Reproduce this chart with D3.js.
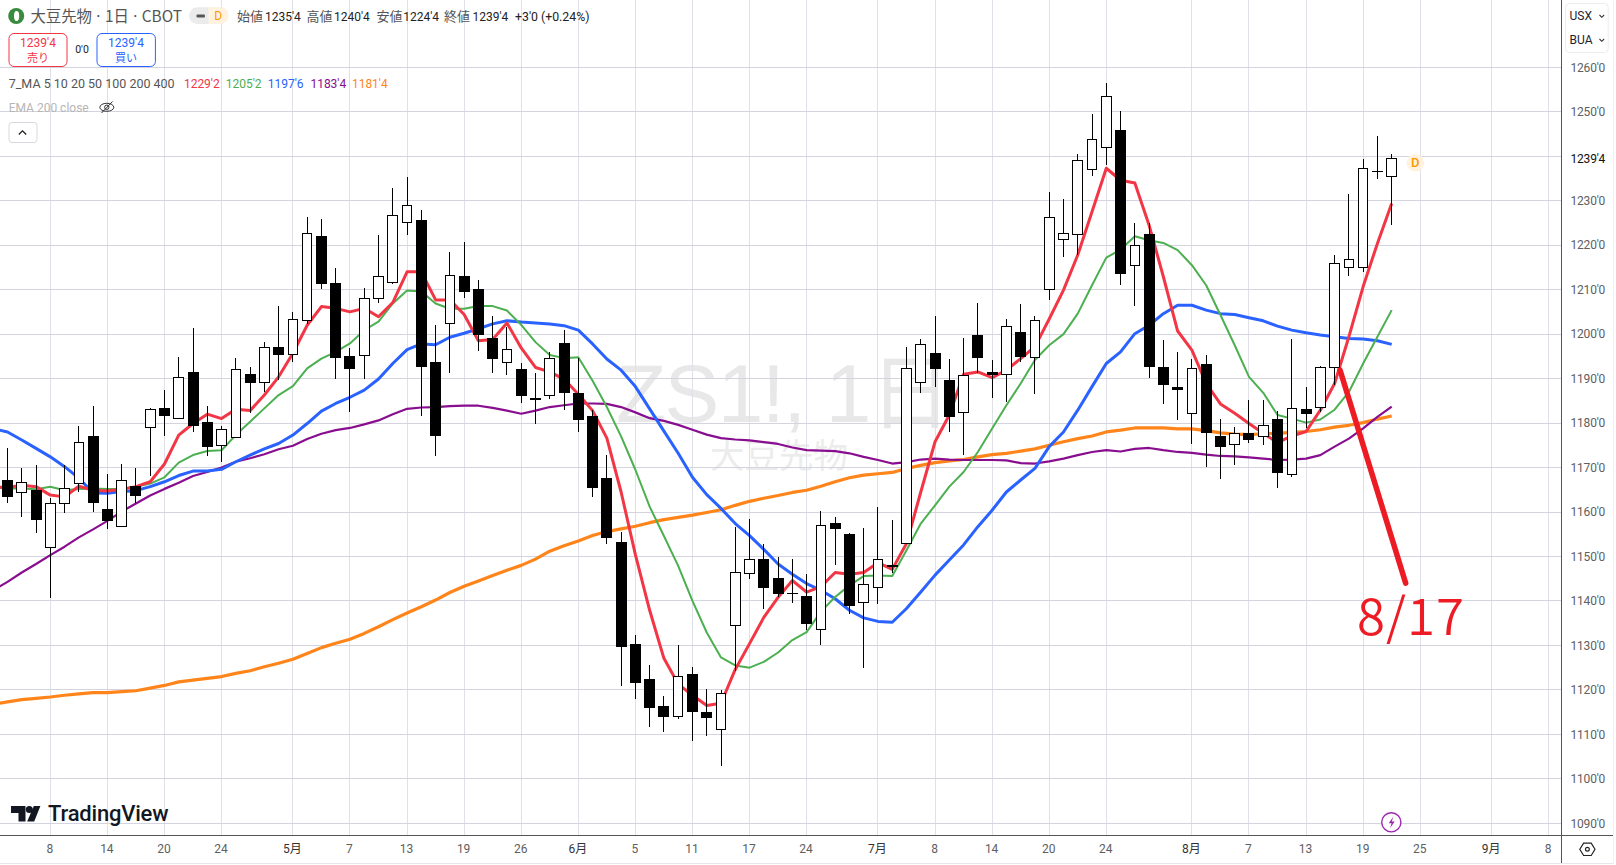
<!DOCTYPE html>
<html><head><meta charset="utf-8">
<script src="https://cdn.jsdelivr.net/npm/d3@7"></script>
<style>
html,body{margin:0;padding:0;background:#fff;overflow:hidden}
svg{display:block}
text{font-family:"Roboto","Liberation Sans","Noto Sans CJK JP",sans-serif}
.cjk{font-family:"Noto Sans CJK JP","Roboto",sans-serif}
</style></head><body>
<svg id="c" width="1616" height="865"></svg>
<script>
const opens=[1167.3,1164.4,1164.9,1152.0,1161.9,1166.4,1177.0,1160.6,1156.8,1165.8,
1179.0,1183.3,1181.1,1191.4,1180.2,1175.0,1176.8,1191.0,1189.2,1197.0,
1195.4,1203.1,1222.0,1211.4,1195.0,1195.2,1208.0,1211.6,1225.0,1225.6,
1193.8,1202.3,1213.1,1210.1,1199.1,1193.7,1192.1,1185.7,1186.1,1197.9,
1186.8,1181.6,1167.7,1153.2,1130.4,1122.5,1116.4,1114.0,1123.6,1115.1,
1111.2,1134.4,1146.1,1149.4,1145.2,1141.8,1141.1,1133.6,1157.5,1155.0,
1139.6,1143.0,1148.1,1152.9,1189.1,1195.7,1189.6,1182.4,1199.9,1191.4,
1190.9,1200.4,1194.8,1210.0,1221.3,1222.4,1237.0,1242.0,1246.0,1215.4,
1222.5,1192.5,1188.1,1182.2,1193.2,1177.0,1175.2,1177.7,1177.0,1181.0,
1168.5,1183.1,1183.5,1192.5,1215.0,1215.0,1236.5,1235.5];
const closes=[1163.4,1166.6,1158.3,1161.9,1165.2,1175.6,1162.1,1158.0,1167.0,1163.7,
1183.1,1181.7,1190.3,1179.4,1174.7,1178.6,1192.1,1189.1,1197.0,1195.4,
1203.3,1222.7,1211.3,1194.7,1192.2,1208.0,1213.0,1226.6,1229.0,1192.5,
1177.0,1213.1,1209.4,1199.7,1194.3,1196.6,1186.0,1185.2,1194.6,1186.7,
1180.8,1165.4,1154.1,1129.6,1121.6,1115.9,1114.0,1123.1,1115.0,1113.7,
1119.3,1146.5,1149.4,1142.8,1141.5,1141.6,1134.9,1157.0,1156.2,1138.9,
1143.7,1149.3,1147.7,1192.3,1197.7,1192.2,1181.4,1190.7,1194.7,1190.9,
1201.7,1194.9,1203.0,1226.2,1222.6,1239.1,1243.8,1253.4,1213.6,1219.9,
1192.6,1188.6,1187.5,1192.3,1177.7,1174.7,1177.6,1176.3,1179.4,1168.7,
1183.2,1182.1,1192.5,1215.8,1216.7,1237.2,1236.7,1239.5];
const highs=[1174.3,1169.8,1170.5,1163.1,1170.5,1179.3,1183.8,1168.5,1170.9,1170.0,
1183.5,1187.4,1194.8,1201.3,1183.8,1179.3,1194.6,1192.7,1198.2,1206.3,
1204.9,1226.3,1226.0,1214.8,1196.8,1210.3,1222.4,1232.8,1235.3,1228.0,
1202.1,1218.5,1220.7,1212.2,1204.0,1201.7,1193.5,1191.3,1196.0,1200.9,
1194.6,1183.0,1172.8,1155.4,1132.4,1125.5,1118.7,1130.0,1125.2,1120.1,
1120.0,1156.6,1158.5,1152.9,1149.9,1149.5,1146.0,1160.3,1158.9,1155.2,
1156.5,1161.2,1158.2,1197.1,1198.8,1204.0,1194.3,1199.1,1207.1,1194.2,
1203.4,1206.7,1204.0,1231.9,1230.3,1240.6,1249.4,1256.4,1250.1,1224.9,
1224.9,1198.6,1195.9,1194.5,1195.2,1181.0,1179.1,1185.2,1185.2,1182.8,
1198.9,1188.0,1192.9,1217.9,1231.6,1239.3,1244.5,1240.5];
const lows=[1162.1,1158.9,1155.3,1140.7,1159.8,1164.6,1160.1,1156.2,1156.8,1162.1,
1168.1,1177.2,1181.0,1178.1,1172.7,1171.3,1176.7,1182.3,1187.0,1189.7,
1193.8,1202.3,1210.2,1190.0,1182.6,1189.8,1207.1,1211.3,1222.2,1181.7,
1172.6,1191.2,1208.2,1196.1,1191.2,1190.7,1184.6,1179.9,1185.3,1183.0,
1177.9,1163.3,1152.7,1120.8,1117.9,1111.7,1110.5,1113.4,1108.5,1109.7,
1102.9,1124.2,1144.9,1138.3,1140.8,1139.6,1133.4,1130.2,1148.0,1137.1,
1125.0,1139.3,1146.3,1152.8,1186.8,1188.2,1178.0,1172.8,1191.3,1185.7,
1184.8,1193.8,1186.6,1207.7,1217.4,1217.8,1235.5,1238.0,1211.0,1206.4,
1190.2,1184.3,1180.7,1175.3,1170.2,1167.5,1170.6,1175.6,1175.1,1165.5,
1167.8,1179.0,1182.6,1188.5,1213.1,1214.0,1234.8,1224.5];
// moving averages start one bar before the first candle (off the left edge)
const ma5=[1165.6,1165.5,1166,1165.7,1163.8,1163.4,1165.8,1164.9,1164.7,1165.1,1165.7,
1166.8,1170.8,1177.3,1179.9,1182.0,1181.0,1183.1,1182.8,1186.3,1190.4,
1195.7,1202.0,1206.2,1205.8,1205,1205.8,1203.9,1207.1,
1214.0,1214.0,1207.7,1207.7,1204.4,1198.5,1198.8,1202.5,1196.9,1192.5,1191.5,1189.9,1186.5,1182.8,1176.6,1164.5,1150.4,1137.9,1127.1,1121.3,1118.8,1116.5,1117.0,1124.6,1130.4,1136.3,1140.8,1144.6,
1142.0,1143.2,1146.4,1146.0,1146.4,1148.6,1147.1,1152.9,1164.5,1175.8,1181.8,1191.0,1191.5,1190.2,1191.9,1194.5,1197.2,
1203.4,1209.9,1217.8,1227.5,1237.3,1234.6,1234.0,1224.5,1212.9,1200.7,1196.4,1188.9,1184.3,1182.2,1179.9,1177.7,1175.6,1177.1,1178.1,1182.9,1188.9,1199.4,1210.7,1220.4,1229.4];
const ma10=[1165.6,1165.3,1165.3,1165.1,1165.7,1164.9,1165.2,1165.3,1165.2,1165.2,1165.7,1166.4,1167.8,1171.1,1172.8,1173.7,1173.9,
1177.3,1180.3,1183.3,1186.3,1188.3,1192.3,1194.5,1196.0,1197.9,1200.9,1202.8,1206.9,
1209.8,1209.6,1206.9,1205.7,1205.7,1206.3,1206.3,1205.3,1202.1,1198.2,1195.3,1194.6,1194.8,1189.5,1183.6,1177.0,1169.5,1161.2,1154.6,1147.9,1140.0,1132.9,1127.3,1125.5,1125.0,1126.3,1128.4,1131.2,
1133.0,1137.6,1140.9,1143.5,1145.6,1145.7,1145.6,1151.4,1157.4,1161.5,1165.7,1169.0,1173.5,1178.8,1184.0,1188.9,1194.2,
1197.5,1200.0,1204.6,1211.0,1217.2,1219.0,1222.0,1221.1,1220.5,1218.9,1215.5,1211.0,1204.3,1197.5,1190.4,1186.8,1181.8,1181.0,1180.1,1180.8,1183.0,1187.0,1193.4,1199.4,1205.4];
const ma20=[1178.7,1178.0,1176.2,1174.3,1172.4,1170.2,1167.6,1164.3,1164.2,1164.6,1164.8,1165.7,1166.8,1168.2,1169.2,1169.2,1169.6,1171.3,1172.8,1174.2,1175.4,1177.3,1179.9,1182.7,1184.4,1185.8,1187.4,1189.9,1193.4,
1196.5,1197.8,1197.6,1199.3,1200.2,1201.2,1202.3,1203.0,1202.7,1202.5,1202.3,1201.9,1200.9,1197.8,1194.4,1191.9,1188.2,1183.2,1178.2,1173.2,1167.8,1163.9,1160.8,1157.4,1154.7,1151.6,1148.3,1146.0,
1143.9,1142.4,1140.5,1137.9,1136.2,1135.4,1135.2,1138.3,1142.0,1145.8,1149.2,1152.6,1156.7,1160.4,1164.5,1167.2,1169.8,
1174.7,1178.0,1182.9,1188.2,1193.4,1196.0,1200.1,1202.0,1204.6,1206.5,1206.5,1205.4,1204.6,1204.4,1203.7,1203.0,1201.8,1200.9,1200.3,1199.8,1199.4,1199.0,1198.9,1198.5,1197.7];
const ma50=[1142.4,1144.3,1146.4,1148.3,1150.3,1152.2,1154.3,1156.1,1158.0,1160.1,1161.9,1163.7,1165.2,1166.6,1168.1,1169.0,1170.0,1171.3,1172.1,1173.0,1174.1,1174.9,1176.4,1177.6,1178.4,1178.9,1179.7,1180.6,1182.0,
1183.2,1183.5,1183.6,1183.8,1183.9,1183.9,1183.4,1182.8,1182.1,1182.8,1183.6,1184.0,1184.4,1184.4,1184.3,1183.6,1182.4,1181.1,1180.5,1179.6,1178.5,1177.4,1176.6,1176.3,1176.1,1175.7,1175.3,1174.5,
1173.9,1173.8,1173.7,1173.2,1172.4,1171.7,1170.9,1171.2,1171.8,1172.0,1171.8,1171.7,1171.7,1171.7,1171.6,1171.0,1170.9,1171.4,1172.0,1172.8,
1173.5,1173.9,1173.6,1174.2,1174.4,1173.9,1173.5,1173.3,1172.9,1172.6,1172.5,1172.3,1172.0,1171.7,1171.8,1172.0,1172.8,1174.7,1176.5,1178.8,1181.4,1183.7];
const ma100=[1116.8,1117.3,1117.8,1118.1,1118.4,1118.8,1119.1,1119.4,1119.4,1119.6,1119.8,1120.4,1121.0,1121.8,1122.2,1122.6,1123.0,1123.7,1124.3,1125.2,1126.0,1126.9,1128.2,1129.5,1130.5,1131.4,1132.7,1134.2,1135.8,1137.3,
1138.7,1140.2,1141.9,1143.3,1144.5,1145.7,1146.9,1148.0,1149.4,1151.2,1152.4,1153.5,1154.7,1155.6,1156.2,1156.8,1157.6,1158.3,1158.8,1159.3,1159.9,1160.5,1161.5,1162.4,1163.1,1163.7,1164.4,
1164.9,1165.8,1166.8,1167.7,1168.3,1168.6,1168.9,1169.8,1170.5,1171.1,1171.5,1171.8,1172.4,1172.9,1173.2,1173.7,1174.2,
1175.0,1175.8,1176.5,1177.1,1178.0,1178.4,1178.9,1178.9,1178.9,1178.7,1178.7,1178.3,1177.8,1177.5,1177.4,1177.6,1177.7,1177.9,1178.1,1178.5,1179.1,1179.5,1180.1,1180.9,1181.6];
const xTickBars=[3,7,11,15,20,24,28,32,36,40,44,48,52,56,61,65,69,73,77,83,87,91,95,99,104,108];
const xTickLabels=["8","14","20","24","5月","7","13","19","26","6月","5","11","17","24","7月","8","14","20","24","8月","7","13","19","25","9月","8"];
const priceGrid=[1260,1250,1240,1230,1220,1210,1200,1190,1180,1170,1160,1150,1140,1130,1120,1110,1100,1090];
const priceLabels=[[1260,"1260'0"],[1250,"1250'0"],[1239.5,"1239'4"],[1230,"1230'0"],[1220,"1220'0"],[1210,"1210'0"],[1200,"1200'0"],[1190,"1190'0"],[1180,"1180'0"],[1170,"1170'0"],[1160,"1160'0"],[1150,"1150'0"],[1140,"1140'0"],[1130,"1130'0"],[1120,"1120'0"],[1110,"1110'0"],[1100,"1100'0"],[1090,"1090'0"]];
const noteBars=[93.38,97.98];
const notePrices=[1191.9,1144.0];

const plotR=1561.5, plotB=835.7;
const x=d3.scaleLinear().domain([0,108]).range([7.5,1548.66]);
const y=d3.scaleLinear().domain([1090,1260]).range([823.3,67.3]);
const svg=d3.select("#c");

// watermark
const wm=svg.append("g");
wm.append("text").attr("x",616).attr("y",421.5).attr("font-size",82).attr("fill","#e8e8e8").attr("letter-spacing","-1.5")
  .style("font-family",'"Liberation Sans","Noto Sans CJK JP",sans-serif').text("ZS1!, 1日");
wm.append("text").attr("class","cjk").attr("x",710).attr("y",468).attr("font-size",34.5).attr("fill","#ececec").text("大豆先物");

// grid
const grid=svg.append("g").attr("shape-rendering","crispEdges");
grid.selectAll(".v").data(xTickBars).join("line").attr("x1",d=>x(d)).attr("x2",d=>x(d)).attr("y1",0).attr("y2",plotB).attr("stroke","#dfe0e8");
grid.selectAll(".h").data(priceGrid).join("line").attr("x1",0).attr("x2",plotR).attr("y1",d=>y(d)).attr("y2",d=>y(d)).attr("stroke","#d3d4e0");

// moving averages
const line=d3.line().x((d,i)=>x(i-1)).y(d=>y(d));
[[ma100,"#ff851b",3.2],[ma50,"#880e8f",2.2],[ma20,"#2962ff",3],[ma10,"#4caf50",2],[ma5,"#f23645",3]].forEach(([s,c,w])=>{
  svg.append("path").attr("d",line(s)).attr("fill","none").attr("stroke",c).attr("stroke-width",w).attr("stroke-linejoin","round");
});

// candles
const bars=d3.range(opens.length);
const cg=svg.append("g").attr("shape-rendering","crispEdges");
cg.selectAll(".w").data(bars).join("line").attr("x1",i=>x(i)).attr("x2",i=>x(i)).attr("y1",i=>y(highs[i])).attr("y2",i=>y(lows[i])).attr("stroke","#000");
cg.selectAll(".b").data(bars).join("rect")
  .each(function(i){
    const top=y(Math.max(opens[i],closes[i])),bot=y(Math.min(opens[i],closes[i])),h=bot-top,r=d3.select(this);
    if(h<1.5){r.attr("x",x(i)-5.5).attr("width",11).attr("y",top-.4).attr("height",1.4).attr("fill","#000");}
    else if(closes[i]>=opens[i]){r.attr("x",x(i)-4.8).attr("width",9.6).attr("y",top).attr("height",h).attr("fill","#fff").attr("stroke","#000");}
    else{r.attr("x",x(i)-5.5).attr("width",11).attr("y",top).attr("height",h).attr("fill","#000");}
  });

// hand annotation
svg.append("line").attr("x1",x(noteBars[0])).attr("y1",y(notePrices[0])).attr("x2",x(noteBars[1])).attr("y2",y(notePrices[1]))
  .attr("stroke","#ed1c24").attr("stroke-width",5.5).attr("stroke-linecap","round");
svg.append("text").attr("x",1357).attr("y",634.5).attr("font-size",51).attr("fill","#ed1c24").attr("letter-spacing","1")
  .style("font-family",'"Noto Sans CJK JP",sans-serif').style("font-weight",350).text("8/17");

// D marker
svg.append("circle").attr("cx",1415.3).attr("cy",162.7).attr("r",8.8).attr("fill","#fff3e0");
svg.append("text").attr("x",1415.3).attr("y",167.3).attr("text-anchor","middle").attr("font-size",13).attr("font-weight",500).attr("fill","#ff9800").text("D");

// axes frame
const frame=svg.append("g").attr("shape-rendering","crispEdges");
frame.append("rect").attr("x",1562).attr("y",0).attr("width",54).attr("height",865).attr("fill","#fff");
frame.append("rect").attr("x",0).attr("y",836).attr("width",1616).attr("height",29).attr("fill","#fff");
frame.append("line").attr("x1",plotR).attr("x2",plotR).attr("y1",0).attr("y2",863).attr("stroke","#555");
frame.append("line").attr("x1",0).attr("x2",1613).attr("y1",plotB).attr("y2",plotB).attr("stroke","#555");
frame.append("line").attr("x1",0).attr("x2",1613).attr("y1",863.5).attr("y2",863.5).attr("stroke","#e6e7ec");
frame.append("line").attr("x1",1613.5).attr("x2",1613.5).attr("y1",0).attr("y2",864).attr("stroke","#f0f1f4");

// axis labels
svg.selectAll(".yl").data(priceLabels).join("text").attr("x",1570.5).attr("y",d=>y(d[0])+4.3)
  .attr("font-size",12).attr("letter-spacing","-0.2").attr("fill",d=>d[0]===1239.5?"#111":"#606060").text(d=>d[1]);
svg.selectAll(".xl").data(xTickBars).join("text").attr("x",d=>x(d)-.5).attr("y",852.5).attr("text-anchor","middle")
  .attr("font-size",12).attr("fill",(d,i)=>xTickLabels[i].includes("月")?"#333":"#606060").text((d,i)=>xTickLabels[i]);

// unit box
svg.append("rect").attr("x",1565.7).attr("y",3.5).attr("width",42.5).attr("height",49).attr("rx",4).attr("fill","#fff").attr("stroke","#ebecf0");
[["USX",20],["BUA",44]].forEach(([t,yy])=>{
  svg.append("text").attr("x",1569.5).attr("y",yy).attr("font-size",12).attr("fill","#1e222d").text(t);
  svg.append("path").attr("d",`M1599.5 ${yy-5}l2.3 2.3l2.3 -2.3`).attr("fill","none").attr("stroke","#333").attr("stroke-width",1.1);
});

// legend
const T=(s,xx,yy,size,fill,extra)=>{const t=svg.append("text").attr("x",xx).attr("y",yy).attr("font-size",size).attr("fill",fill).text(s);if(extra)extra(t);return t;};
const cjk=t=>t.attr("class","cjk");
svg.append("circle").attr("cx",16.2).attr("cy",16).attr("r",8).attr("fill","#3a8a3f");
svg.append("ellipse").attr("cx",16.6).attr("cy",16).attr("rx",2.6).attr("ry",5).attr("fill","#fff");
T("大豆先物 · 1日 · CBOT",30.4,21.5,15.4,"#555",t=>{cjk(t);t.attr("word-spacing","-1.3")});
svg.append("rect").attr("x",189).attr("y",7.3).attr("width",39.5).attr("height",16.7).attr("rx",8.3).attr("fill","#ebebeb");
svg.append("path").attr("d","M208.5 7.3h11.7a8.3 8.3 0 0 1 0 16.7h-11.7z").attr("fill","#fff3e0");
svg.append("rect").attr("x",196.5).attr("y",14.5).attr("width",8.5).attr("height",3).attr("rx",1).attr("fill","#555");
T("D",214.3,20.3,12,"#ff9800");
[["始値",237,"1235'4",265],["高値",306.4,"1240'4",334],["安値",376.4,"1224'4",403.3],["終値",444,"1239'4",472.5]].forEach(([a,ax,b,bx])=>{
  T(a,ax,21,13,"#555",cjk);
  T(b,bx,20.5,12,"#222");
});
T("+3'0 (+0.24%)",515,20.5,12.3,"#222");

svg.append("rect").attr("x",9).attr("y",33.5).attr("width",58).attr("height",33).attr("rx",5).attr("fill","#fff").attr("stroke","#f23645");
svg.append("rect").attr("x",97).attr("y",33.5).attr("width",58.4).attr("height",33).attr("rx",5).attr("fill","#fff").attr("stroke","#2962ff");
T("1239'4",38,47,12,"#f23645",t=>t.attr("text-anchor","middle"));
T("売り",38,61.5,11,"#f23645",t=>{cjk(t);t.attr("text-anchor","middle")});
T("0'0",82,53,10.5,"#222",t=>t.attr("text-anchor","middle"));
T("1239'4",126,47,12,"#2962ff",t=>t.attr("text-anchor","middle"));
T("買い",126,61.5,11,"#2962ff",t=>{cjk(t);t.attr("text-anchor","middle")});

T("7_MA 5 10 20 50 100 200 400",8.7,88.3,12.5,"#555");
[["1229'2",183.9,"#f23645"],["1205'2",225.8,"#4caf50"],["1197'6",267.7,"#2962ff"],["1183'4",310.4,"#880e8f"],["1181'4",351.9,"#ff851b"]].forEach(([s,xx,c])=>T(s,xx,88.3,12,c));
T("EMA 200 close",8.7,111.6,12,"#b6b6b6");
// hidden-eye icon
svg.append("ellipse").attr("cx",106.8).attr("cy",107.3).attr("rx",7).attr("ry",4).attr("fill","none").attr("stroke","#333").attr("stroke-width",1);
svg.append("circle").attr("cx",106.8).attr("cy",107.3).attr("r",2.2).attr("fill","none").attr("stroke","#333").attr("stroke-width",1);
svg.append("path").attr("d","M101.5 113L112.5 101.5").attr("stroke","#333").attr("stroke-width",1);
svg.append("rect").attr("x",9).attr("y",122.5).attr("width",28).attr("height",20).attr("rx",3).attr("fill","#fff").attr("stroke","#d8d9e0");
svg.append("path").attr("d","M18.8 134.5l3.7 -3.7l3.7 3.7").attr("fill","none").attr("stroke","#222").attr("stroke-width",1.3);

// TradingView logo
svg.append("path").attr("d","M11 806h14.5v15.5h-7v-8.5h-7.5z").attr("fill","#131722");
svg.append("circle").attr("cx",29.3).attr("cy",809.6).attr("r",3.5).attr("fill","#131722");
svg.append("path").attr("d","M33.8 806h6.6l-6.2 15.5h-7z").attr("fill","#131722");
T("TradingView",48,821,22,"#131722",t=>t.attr("font-weight",500).attr("letter-spacing","-0.2"));

// lightning
svg.append("circle").attr("cx",1391.3).attr("cy",822.3).attr("r",9.6).attr("fill","#fff").attr("stroke","#9c27b0").attr("stroke-width",1.4);
svg.append("path").attr("d","M1393.3 816.8l-4.6 6.4h2.9l-1.6 4.7l4.8 -6.5h-3z").attr("fill","#9c27b0");
// settings
svg.append("path").attr("d","M1579.8 849.3l3.8 -6.2h7.6l3.8 6.2l-3.8 6.2h-7.6z").attr("fill","none").attr("stroke","#222").attr("stroke-width",1.2);
svg.append("circle").attr("cx",1587.4).attr("cy",849.3).attr("r",1.9).attr("fill","none").attr("stroke","#222").attr("stroke-width",1.2);
</script>
</body></html>
